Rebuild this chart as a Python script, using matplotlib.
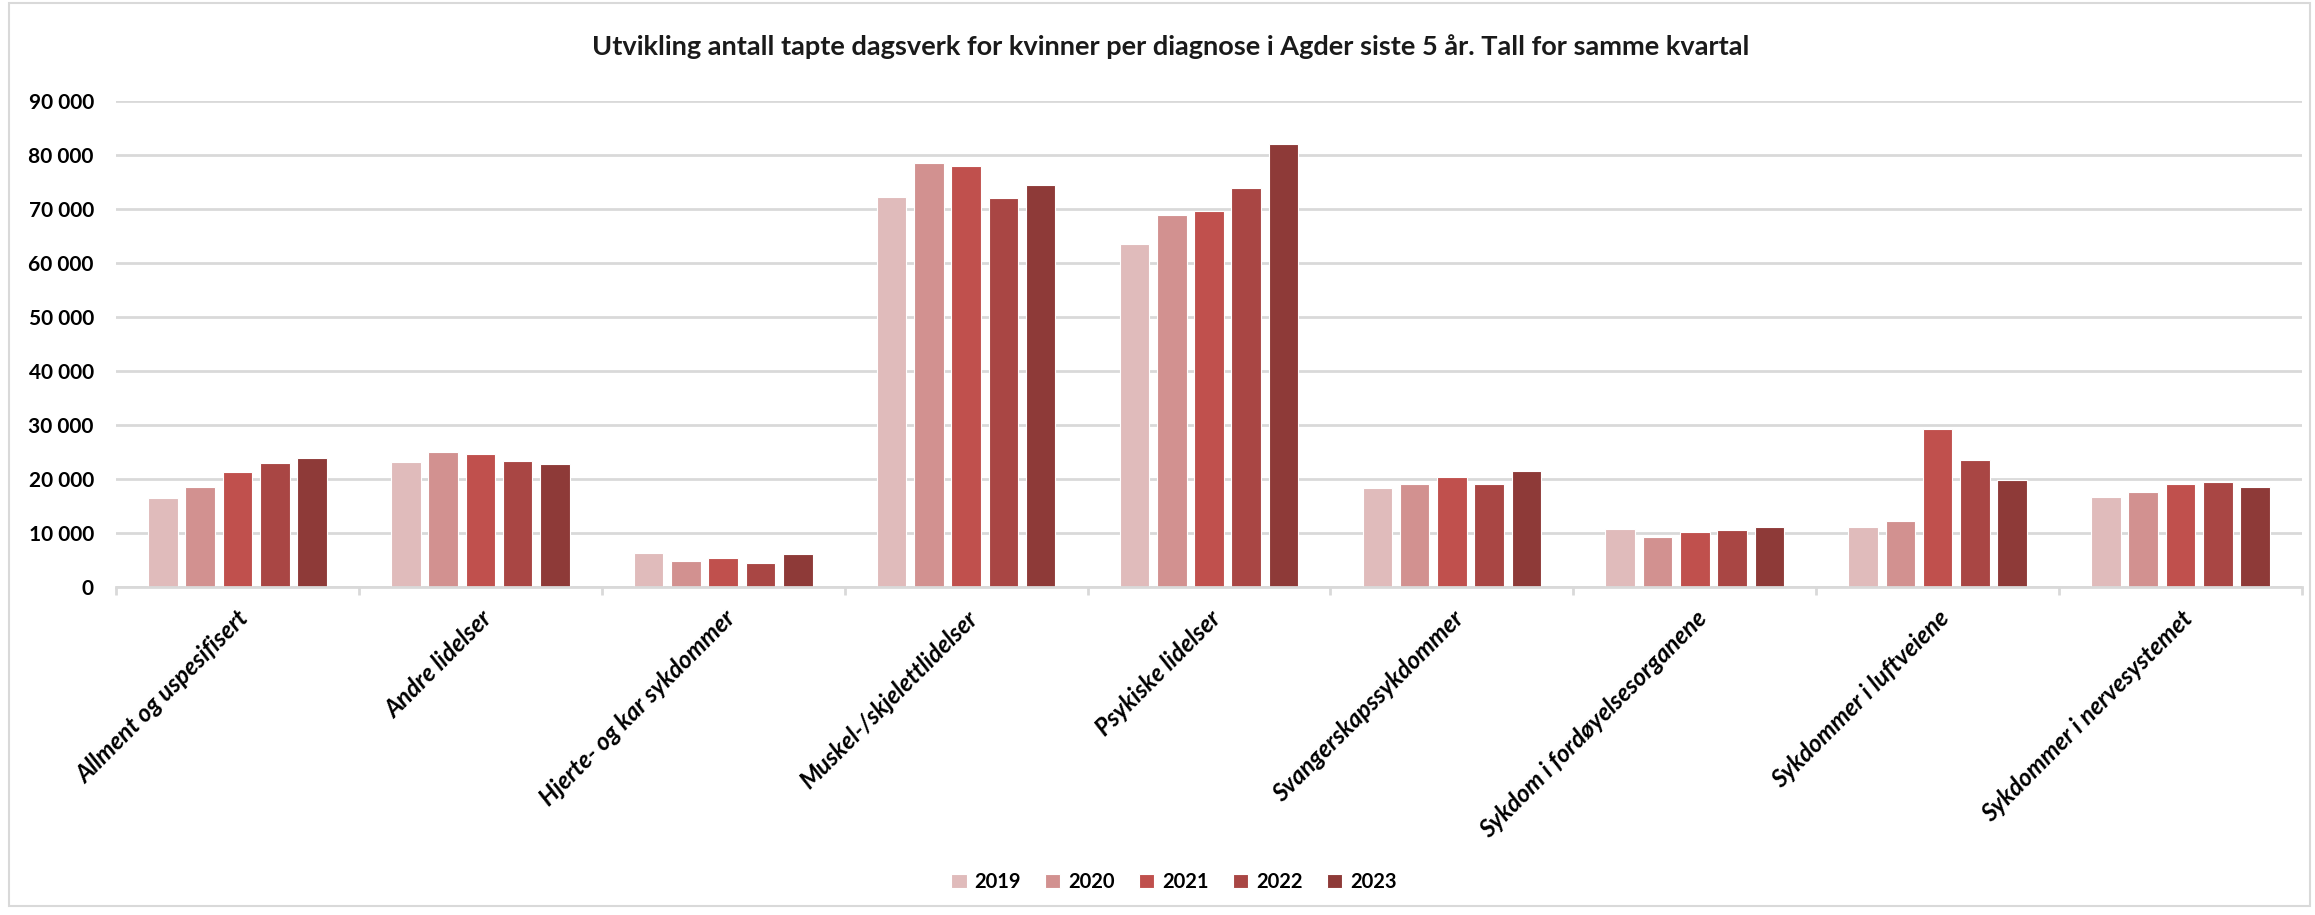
import matplotlib
matplotlib.use("Agg")
import matplotlib.pyplot as plt
import numpy as np
from matplotlib.ticker import FuncFormatter, FixedLocator
from matplotlib.patches import Rectangle

categories = ["Allment og uspesifisert", "Andre lidelser", "Hjerte- og kar sykdommer",
              "Muskel-/skjelettlidelser", "Psykiske lidelser", "Svangerskapssykdommer",
              "Sykdom i fordøyelsesorganene", "Sykdommer i luftveiene", "Sykdommer i nervesystemet"]
years = ["2019", "2020", "2021", "2022", "2023"]
v2019 = [16500, 23100, 6300, 72200, 63600, 18300, 10700, 11100, 16600]
v2020 = [18600, 25000, 4800, 78600, 68900, 19100, 9300, 12300, 17600]
v2021 = [21300, 24600, 5400, 77900, 69600, 20300, 10200, 29200, 19000]
v2022 = [23000, 23300, 4400, 72000, 73900, 19100, 10500, 23500, 19400]
v2023 = [23900, 22700, 6100, 74400, 82000, 21500, 11200, 19900, 18500]
series = [v2019, v2020, v2021, v2022, v2023]
colors = ["#E0BBBB", "#D29190", "#C0504D", "#A94644", "#8E3A38"]
yticks = [0, 10000, 20000, 30000, 40000, 50000, 60000, 70000, 80000, 90000]
title = "Utvikling antall tapte dagsverk for kvinner per diagnose i Agder siste 5 år. Tall for samme kvartal"

plt.rcParams['font.family'] = ['Lato', 'DejaVu Sans']

W, H = 2315, 915
fig = plt.figure(figsize=(W / 100, H / 100), dpi=100)
ax = fig.add_axes([116 / W, 1 - 587 / H, (2302 - 116) / W, (587 - 101) / H])

x = np.arange(len(categories))
step = 0.1535
width = 0.122
for i, (vals, col, yr) in enumerate(zip(series, colors, years)):
    ax.bar(x + (i - 2) * step, vals, width=width, color=col, edgecolor="white",
           linewidth=0.8, label=yr, zorder=3)

ax.set_xlim(-0.5, len(categories) - 0.5)
ax.set_ylim(0, 90000)
ax.yaxis.set_major_locator(FixedLocator(yticks))
ax.yaxis.set_major_formatter(FuncFormatter(lambda v, p: f"{int(v):,}".replace(",", " ")))
ax.grid(axis="y", color="#D9D9D9", linewidth=2, zorder=0)
for s in ["left", "right", "top"]:
    ax.spines[s].set_visible(False)
ax.spines["bottom"].set_color("#D9D9D9")
ax.spines["bottom"].set_linewidth(2)
ax.spines["bottom"].set_zorder(4)
ax.tick_params(axis="y", length=0, pad=16, labelsize=15)
for lab in ax.get_yticklabels():
    lab.set_fontweight("bold")

ax.set_xticks(x)
ax.set_xticklabels(categories, rotation=45, ha="right", rotation_mode="anchor",
                   fontsize=17.5, fontweight="bold", fontstyle="italic")
ax.tick_params(axis="x", which="major", length=0, pad=14)
ax.set_xticks(np.arange(-0.5, len(categories), 1.0), minor=True)
ax.tick_params(axis="x", which="minor", length=6, width=2, color="#D9D9D9")

fig.text(0.5055, 1 - 47 / H, title, ha="center", va="center", fontsize=19.5,
         fontweight="bold", color="#1a1a1a")

leg = fig.legend(loc="center", bbox_to_anchor=(1174 / W, 1 - 882 / H), ncol=5,
                 frameon=False, prop={"size": 14.5, "weight": "bold"},
                 handlelength=0.75, handleheight=0.75, handletextpad=0.4,
                 columnspacing=1.2)

fig.patches.append(Rectangle((9 / W, 9 / H), (W - 14) / W, (H - 12) / H,
                             transform=fig.transFigure, fill=False,
                             edgecolor="#D9D9D9", linewidth=1.5))

fig.savefig("out.png", dpi=100)
